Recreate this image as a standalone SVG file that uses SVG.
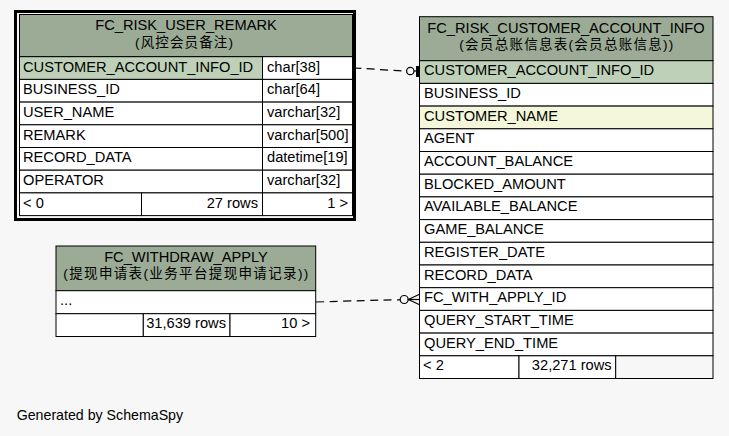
<svg xmlns="http://www.w3.org/2000/svg" width="729" height="436" viewBox="0 0 729 436">
<style>
  text { font-family: "Liberation Sans", Arial, "Noto Sans CJK SC", sans-serif; font-size: 14.67px; fill: #000; }
  .sub { font-size: 13.5px; }
  .mid { text-anchor: middle; }
  .end { text-anchor: end; }
  .hdr { fill: #9bab96; stroke: #000; stroke-width: 1; }
  .pk { fill: #bed1b8; stroke: #000; stroke-width: 1; }
  .idx { fill: #f4f7da; stroke: #000; stroke-width: 1; }
  .cell { fill: #ffffff; stroke: #000; stroke-width: 1; }
  .foot { fill: #ffffff; stroke: #000; stroke-width: 1; }
  .edge { fill: none; stroke: #000; stroke-width: 1.2; stroke-dasharray: 8 5.5; }
  .solid { fill: none; stroke: #000; stroke-width: 1.2; }
</style>
<rect x="0" y="0" width="729" height="436" fill="#f7f7f7"/>

<g id="connectors">
  <path class="edge" d="M353,68 C375,69 390,70.5 406.5,71"/>
  <circle class="solid" cx="410.3" cy="71" r="3.7" fill="none"/>
  <line class="solid" x1="414" y1="71" x2="417" y2="71"/>
  <rect x="416" y="66" width="3" height="11" fill="#000"/>

  <path class="edge" d="M316,302 C350,301 380,300 400,299.8"/>
  <circle class="solid" cx="404.2" cy="299.5" r="4" fill="none"/>
  <polyline class="solid" points="419,294.5 408.4,299.5 419,304.5" stroke-width="1.5"/>
  <line class="solid" x1="408.4" y1="299.5" x2="419" y2="299.5" stroke-width="1.5"/>
</g>

<g id="FC_RISK_USER_REMARK">
  <rect x="15.5" y="11.5" width="339" height="208" fill="#f7f7f7" stroke="#000" stroke-width="3"/>
  <rect class="hdr" x="19.5" y="14.5" width="333" height="42"/>
  <text class="mid" x="186" y="30">FC_RISK_USER_REMARK</text>
  <text class="sub mid" x="184" y="46.5" textLength="98" lengthAdjust="spacing">(风控会员备注)</text>

  <rect class="pk" x="19.5" y="56.7" width="243" height="22.7"/>
  <rect class="cell" x="262.5" y="56.7" width="90" height="22.7"/>
  <text x="23" y="71.5">CUSTOMER_ACCOUNT_INFO_ID</text>
  <text x="267" y="71.5">char[38]</text>

  <rect class="cell" x="19.5" y="79.4" width="243" height="22.7"/>
  <rect class="cell" x="262.5" y="79.4" width="90" height="22.7"/>
  <text x="23" y="94.2">BUSINESS_ID</text>
  <text x="267" y="94.2">char[64]</text>

  <rect class="cell" x="19.5" y="102.1" width="243" height="22.7"/>
  <rect class="cell" x="262.5" y="102.1" width="90" height="22.7"/>
  <text x="23" y="116.9">USER_NAME</text>
  <text x="267" y="116.9">varchar[32]</text>

  <rect class="cell" x="19.5" y="124.8" width="243" height="22.7"/>
  <rect class="cell" x="262.5" y="124.8" width="90" height="22.7"/>
  <text x="23" y="139.6">REMARK</text>
  <text x="267" y="139.6">varchar[500]</text>

  <rect class="cell" x="19.5" y="147.5" width="243" height="22.7"/>
  <rect class="cell" x="262.5" y="147.5" width="90" height="22.7"/>
  <text x="23" y="162.3">RECORD_DATA</text>
  <text x="267" y="162.3">datetime[19]</text>

  <rect class="cell" x="19.5" y="170.2" width="243" height="22.7"/>
  <rect class="cell" x="262.5" y="170.2" width="90" height="22.7"/>
  <text x="23" y="185">OPERATOR</text>
  <text x="267" y="185">varchar[32]</text>

  <rect class="foot" x="19.5" y="192.9" width="122" height="22.7"/>
  <rect class="foot" x="141.5" y="192.9" width="121" height="22.7"/>
  <rect class="foot" x="262.5" y="192.9" width="90" height="22.7"/>
  <text x="23" y="207.7">&lt; 0</text>
  <text class="end" x="258" y="207.7">27 rows</text>
  <text class="end" x="348" y="207.7">1 &gt;</text>
</g>

<g id="FC_RISK_CUSTOMER_ACCOUNT_INFO">
  <rect class="hdr" x="419.5" y="16.7" width="293.5" height="44"/>
  <text class="mid" x="566" y="33.3">FC_RISK_CUSTOMER_ACCOUNT_INFO</text>
  <text class="sub mid" x="566.3" y="49.3" textLength="214" lengthAdjust="spacing">(会员总账信息表(会员总账信息))</text>

  <rect class="pk" x="419.5" y="60.7" width="293.5" height="22.7"/>
  <text x="424" y="75.2">CUSTOMER_ACCOUNT_INFO_ID</text>
  <rect class="cell" x="419.5" y="83.4" width="293.5" height="22.7"/>
  <text x="424" y="97.9">BUSINESS_ID</text>
  <rect class="idx" x="419.5" y="106.1" width="293.5" height="22.7"/>
  <text x="424" y="120.6">CUSTOMER_NAME</text>
  <rect class="cell" x="419.5" y="128.8" width="293.5" height="22.7"/>
  <text x="424" y="143.3">AGENT</text>
  <rect class="cell" x="419.5" y="151.5" width="293.5" height="22.7"/>
  <text x="424" y="166">ACCOUNT_BALANCE</text>
  <rect class="cell" x="419.5" y="174.2" width="293.5" height="22.7"/>
  <text x="424" y="188.7">BLOCKED_AMOUNT</text>
  <rect class="cell" x="419.5" y="196.9" width="293.5" height="22.7"/>
  <text x="424" y="211.4">AVAILABLE_BALANCE</text>
  <rect class="cell" x="419.5" y="219.6" width="293.5" height="22.7"/>
  <text x="424" y="234.1">GAME_BALANCE</text>
  <rect class="cell" x="419.5" y="242.3" width="293.5" height="22.7"/>
  <text x="424" y="256.8">REGISTER_DATE</text>
  <rect class="cell" x="419.5" y="265" width="293.5" height="22.7"/>
  <text x="424" y="279.5">RECORD_DATA</text>
  <rect class="cell" x="419.5" y="287.7" width="293.5" height="22.7"/>
  <text x="424" y="302.2">FC_WITH_APPLY_ID</text>
  <rect class="cell" x="419.5" y="310.4" width="293.5" height="22.7"/>
  <text x="424" y="324.9">QUERY_START_TIME</text>
  <rect class="cell" x="419.5" y="333.1" width="293.5" height="22.7"/>
  <text x="424" y="347.6">QUERY_END_TIME</text>

  <rect class="foot" x="419.5" y="355.8" width="99.5" height="22.7"/>
  <rect class="foot" x="519" y="355.8" width="96.7" height="22.7"/>
  <rect x="615.7" y="355.8" width="97.3" height="22.7" fill="#f7f7f7" stroke="#000" stroke-width="1"/>
  <text x="423" y="370.3">&lt; 2</text>
  <text class="end" x="611.7" y="370.3">32,271 rows</text>
</g>

<g id="FC_WITHDRAW_APPLY">
  <rect class="hdr" x="56" y="246" width="259.7" height="44.7"/>
  <text class="mid" x="186" y="261.7">FC_WITHDRAW_APPLY</text>
  <text class="sub mid" x="185.8" y="278.3" textLength="245" lengthAdjust="spacing">(提现申请表(业务平台提现申请记录))</text>

  <rect class="cell" x="56" y="290.7" width="259.7" height="23"/>
  <text x="60" y="305">...</text>

  <rect class="foot" x="56" y="313.7" width="87.3" height="22.8"/>
  <rect class="foot" x="143.3" y="313.7" width="86.7" height="22.8"/>
  <rect class="foot" x="230" y="313.7" width="85.7" height="22.8"/>
  <text class="end" x="226" y="328">31,639 rows</text>
  <text class="end" x="310" y="328">10 &gt;</text>
</g>

<text x="16.7" y="420" style="font-size:14.2px">Generated by SchemaSpy</text>
</svg>
